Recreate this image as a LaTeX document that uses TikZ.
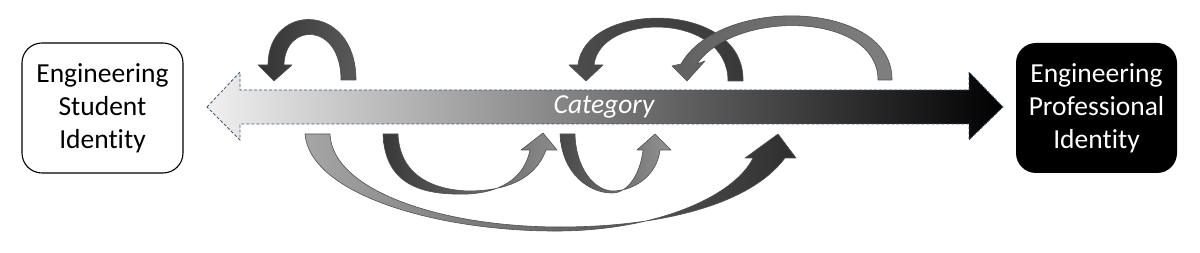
\documentclass[tikz,border=0pt]{standalone}
\usepackage{fontspec}
\setmainfont{Carlito}[Ligatures=NoCommon]
\usetikzlibrary{arrows.meta}
\definecolor{idgray}{HTML}{F0F0F0}
\definecolor{dashblue}{HTML}{44546A}
\definecolor{ribbonedge}{HTML}{505050}

\begin{document}
\begin{tikzpicture}[x=1pt, y=-1pt, line width=0.9pt,
    idbox/.style={rounded corners=20pt, minimum width=161pt, minimum height=130pt,
      align=center, inner sep=0pt, font=\fontsize{27.5}{33}\selectfont},
    ribbon/.style={draw=ribbonedge, line width=0.6pt, line join=round}]
  \useasboundingbox (0,0) rectangle (1200,253);
  % identities
  \node[idbox, draw=black, line width=1.1pt, fill=white] (student) at (102.5,108) {Engineering\\Student\\Identity};
  \node[idbox, fill=black, text=white] (professional) at (1096.5,108) {Engineering\\Professional\\Identity};
  % category arrow
  \shade[left color=idgray, right color=black, shading angle=90]
    (207,107) -- (240,72) -- (240,90) -- (969,90) -- (969,72) -- (1003,107)
    -- (969,140) -- (969,124) -- (240,124) -- (240,140) -- cycle;
  \draw[dashblue, line width=0.8pt, dash pattern=on 3pt off 2pt]
    (207,107) -- (240,72) -- (240,90) -- (969,90) -- (969,72) -- (1003,107)
    -- (969,140) -- (969,124) -- (240,124) -- (240,140) -- cycle;
  \node[text=white, font=\fontsize{27.5}{33}\selectfont\itshape] (category) at (604,107) {Category};
  % loops above
  \shade[ribbon, left color=black!80, right color=black!65]
    (356,80) .. controls (356,2) and (268,2) .. (268,65) -- (258,65) -- (274,81) -- (292,65)
    -- (284,65) .. controls (285,22) and (341,22) .. (341,80) -- cycle;
  \shade[ribbon, left color=black!70, right color=black!78]
    (743,81) .. controls (745,0) and (585,0) .. (578,65) -- (569,65) -- (586,81) -- (603,65)
    -- (594,65) .. controls (600,12) and (728,12) .. (728,81) -- cycle;
  \shade[ribbon, left color=black!62, right color=black!50]
    (892,80) .. controls (893,0) and (720,-5) .. (681,64) -- (672,66) -- (687,81) -- (705,61)
    -- (697,64) .. controls (735,9) and (878,12) .. (878,80) -- cycle;
  % loops below
  \shade[ribbon, left color=black!78, right color=black!45]
    (383,134) .. controls (385,190) and (430,195) .. (468,194) .. controls (505,192) and (525,175) .. (530,150)
    -- (521,150) -- (543,133) -- (557,150) -- (546,150)
    .. controls (535,180) and (505,191) .. (468,191) .. controls (440,190) and (400,180) .. (398,134) -- cycle;
  \shade[ribbon, left color=black!72, right color=black!42]
    (560,134) .. controls (562,175) and (590,193) .. (612,193) .. controls (630,193) and (641,170) .. (643,150)
    -- (637,150) -- (655,134) -- (671,150) -- (660,150)
    .. controls (657,175) and (635,191) .. (612,191) .. controls (595,190) and (576,170) .. (575,134) -- cycle;
  \shade[ribbon, left color=black!35, right color=black!82]
    (305,134) .. controls (310,195) and (440,232) .. (560,231) .. controls (660,230) and (735,195) .. (753,158)
    -- (745,158) -- (778,134) -- (796,158) -- (785,158)
    .. controls (750,205) and (660,227) .. (560,227) .. controls (440,227) and (332,190) .. (330,134) -- cycle;
\end{tikzpicture}
\end{document}
